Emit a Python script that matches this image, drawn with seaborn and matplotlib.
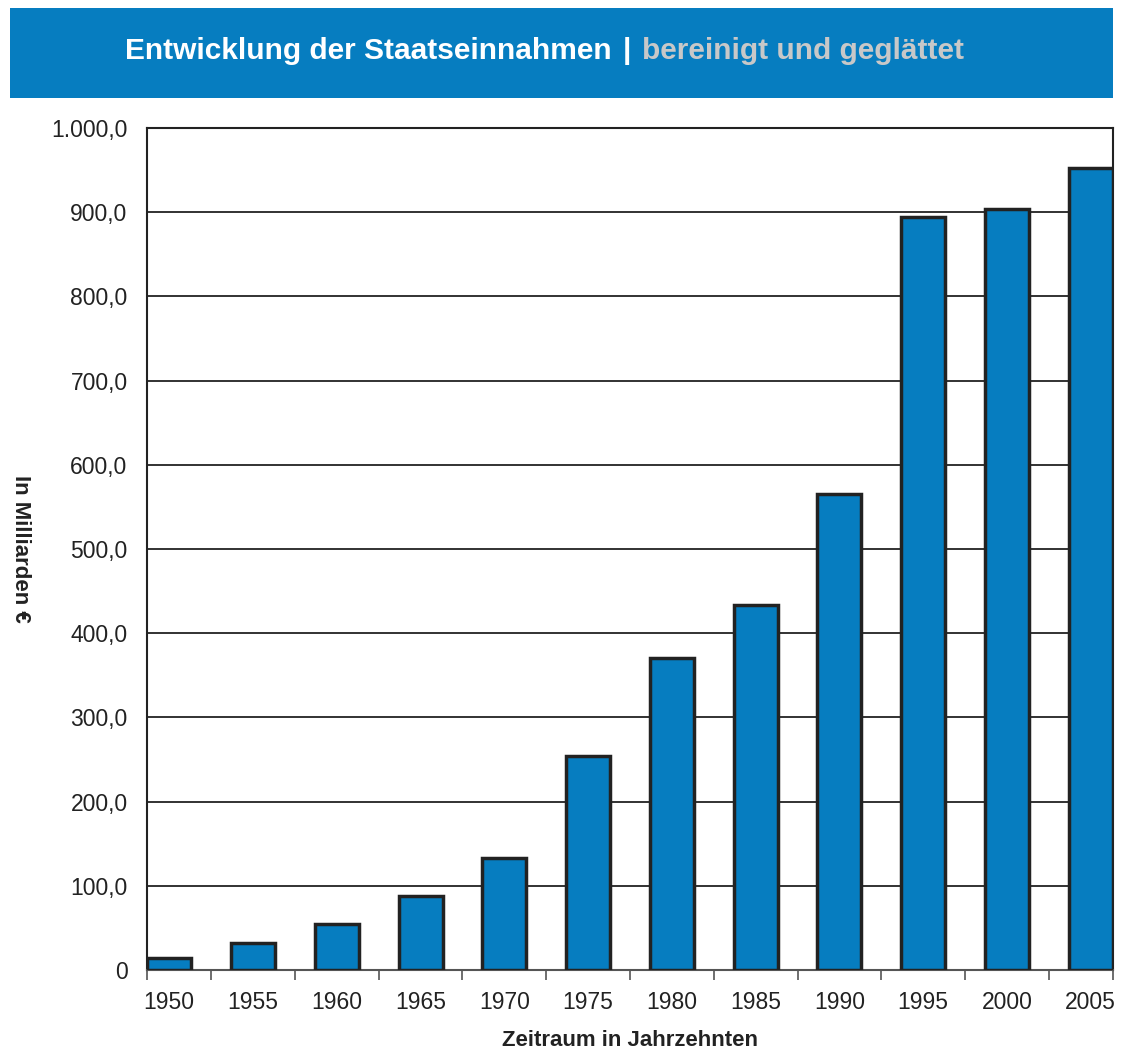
import matplotlib
matplotlib.use("Agg")
import matplotlib.pyplot as plt
import seaborn as sns
import pandas as pd
from matplotlib.patches import Rectangle
from matplotlib.ticker import FixedLocator

years = ["1950", "1955", "1960", "1965", "1970", "1975", "1980", "1985", "1990", "1995", "2000", "2005"]
values = [14, 32, 55, 88, 133, 254, 370, 433, 565, 894, 904, 952]
y_ticks = [0, 100, 200, 300, 400, 500, 600, 700, 800, 900, 1000]
y_tick_labels = ["0", "100,0", "200,0", "300,0", "400,0", "500,0", "600,0", "700,0", "800,0", "900,0", "1.000,0"]

title_main = "Entwicklung der Staatseinnahmen"
title_sep = "|"
title_sub = "bereinigt und geglättet"
x_label = "Zeitraum in Jahrzehnten"
y_label = "In Milliarden €"

sns.set_theme(style="white")
plt.rcParams['font.family'] = ['Liberation Sans', 'DejaVu Sans']

W, H = 1122, 1057
fig = plt.figure(figsize=(W / 100, H / 100), dpi=100)
ax = fig.add_axes([147 / W, 1 - 970 / H, (1113 - 147) / W, (970 - 128) / H])

df = pd.DataFrame({"year": years, "value": values})
blue = "#067dc0"
sns.barplot(data=df, x="year", y="value", color=blue, width=0.525,
            edgecolor="#222222", linewidth=2.5, saturation=1, ax=ax, zorder=3)

ax.set_xlim(-0.265, len(years) - 1 + 0.265)
ax.set_ylim(0, 1000)
ax.set_yticks(y_ticks)
ax.set_yticklabels(y_tick_labels)
ax.yaxis.grid(True, color="#222222", linewidth=1.3, zorder=0)
ax.set_axisbelow(True)
ax.tick_params(axis="y", length=0, pad=14, labelsize=16.5, labelcolor="#222222")
ax.tick_params(axis="x", which="major", length=0, pad=15, labelsize=16.5, labelcolor="#222222")
bounds = [-0.265] + [i + 0.5 for i in range(len(years) - 1)] + [len(years) - 1 + 0.265]
ax.xaxis.set_minor_locator(FixedLocator(bounds))
ax.tick_params(axis="x", which="minor", bottom=True, length=7, width=1.2, color="#555555", direction="out")

for side in ["left", "top", "right"]:
    ax.spines[side].set_color("#222222")
    ax.spines[side].set_linewidth(1.5)
ax.spines["bottom"].set_color("#555555")
ax.spines["bottom"].set_linewidth(1.5)

ax.set_xlabel(x_label, fontsize=16, fontweight="bold", color="#222222", labelpad=12)
ax.set_ylabel(y_label, fontsize=16, fontweight="bold", color="#222222", rotation=-90, labelpad=0)
ax.yaxis.set_label_coords(-137 / (1113 - 147), 0.5)

# banner
fig.patches.append(Rectangle((10 / W, 1 - 98 / H), (1113 - 10) / W, 90 / H,
                             transform=fig.transFigure, facecolor="#067dc0", edgecolor="none", zorder=0))
ty = 1 - 51 / H
fig.text(612 / W, ty, title_main, ha="right", va="center", color="white", fontsize=21.5, fontweight="bold")
fig.text(627 / W, ty, title_sep, ha="center", va="center", color="white", fontsize=21.5, fontweight="bold")
fig.text(642 / W, ty, title_sub, ha="left", va="center", color="#c8c8c8", fontsize=21.5, fontweight="bold")

fig.savefig("out.png", dpi=100, facecolor="white")
